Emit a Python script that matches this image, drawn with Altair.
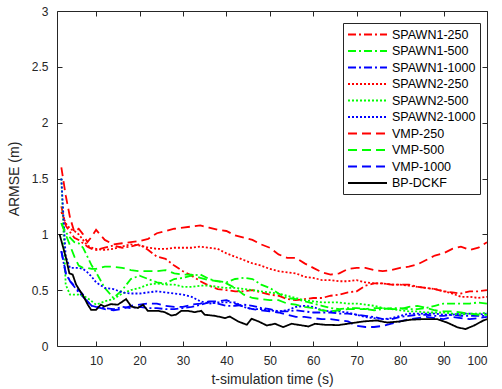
import altair as alt
import pandas as pd

SERIES = ["SPAWN1-250", "SPAWN1-500", "SPAWN1-1000",
          "SPAWN2-250", "SPAWN2-500", "SPAWN2-1000",
          "VMP-250", "VMP-500", "VMP-1000", "BP-DCKF"]
COLORS = ["#FF0000", "#00FF00", "#0000FF",
          "#FF0000", "#00FF00", "#0000FF",
          "#FF0000", "#00FF00", "#0000FF", "#000000"]
DASHES = [[8, 3, 2, 3], [8, 3, 2, 3], [8, 3, 2, 3],
          [2, 2], [2, 2], [2, 2],
          [9, 5], [9, 5], [9, 5],
          [1, 0]]

T = [2, 3, 4, 5, 6, 7, 8, 9, 10,
     12, 14, 16, 18, 20, 22, 24, 26, 28, 30,
     32, 34, 36, 38, 40, 42, 44, 46, 48, 50,
     52, 54, 56, 58, 60, 62, 64, 66, 68, 70,
     72, 74, 76, 78, 80, 82, 84, 86, 88, 90,
     92, 94, 96, 98, 100]

SPAWN1_250 = [1.25, 1.08, 1.02, 0.97, 0.95, 0.92, 0.89, 0.87, 0.86,
              0.88, 0.90, 0.88, 0.89, 0.91, 0.86, 0.80, 0.78, 0.72, 0.67,
              0.63, 0.58, 0.54, 0.51, 0.50, 0.49, 0.49, 0.50, 0.48, 0.46,
              0.45, 0.42, 0.41, 0.42, 0.43, 0.43, 0.45, 0.46, 0.48, 0.49,
              0.54, 0.56, 0.56, 0.55, 0.55, 0.55, 0.53, 0.52, 0.51, 0.49,
              0.48, 0.47, 0.49, 0.49, 0.50]
SPAWN1_500 = [1.10, 1.02, 0.97, 0.93, 0.92, 0.88, 0.80, 0.72, 0.66,
              0.52, 0.43, 0.50, 0.60, 0.63, 0.60, 0.57, 0.56, 0.60, 0.61,
              0.63, 0.64, 0.60, 0.58, 0.57, 0.60, 0.61, 0.60, 0.55, 0.52,
              0.47, 0.43, 0.42, 0.40, 0.38, 0.36, 0.34, 0.33, 0.34, 0.34,
              0.33, 0.32, 0.33, 0.34, 0.34, 0.33, 0.33, 0.34, 0.36, 0.38,
              0.38, 0.38, 0.38, 0.39, 0.38]
SPAWN1_1000 = [0.85, 0.65, 0.58, 0.53, 0.48, 0.44, 0.40, 0.36, 0.35,
               0.34, 0.33, 0.35, 0.34, 0.35, 0.34, 0.34, 0.33, 0.33, 0.34,
               0.35, 0.37, 0.39, 0.38, 0.36, 0.36, 0.37, 0.36, 0.34, 0.33,
               0.31, 0.31, 0.32, 0.31, 0.30, 0.30, 0.30, 0.29, 0.29, 0.28,
               0.27, 0.26, 0.24, 0.24, 0.26, 0.27, 0.28, 0.28, 0.27, 0.27,
               0.28, 0.27, 0.27, 0.27, 0.27]
SPAWN2_250 = [1.20, 1.10, 1.05, 1.03, 1.00, 0.95, 0.90, 0.88, 0.87,
              0.86, 0.87, 0.89, 0.91, 0.90, 0.88, 0.87, 0.87, 0.88, 0.88,
              0.88, 0.89, 0.88, 0.87, 0.83, 0.80, 0.77, 0.74, 0.72, 0.69,
              0.67, 0.66, 0.65, 0.62, 0.61, 0.59, 0.59, 0.58, 0.58, 0.59,
              0.57, 0.56, 0.56, 0.55, 0.55, 0.54, 0.53, 0.52, 0.51, 0.49,
              0.47, 0.44, 0.44, 0.43, 0.44]
SPAWN2_500 = [1.50, 0.55, 0.46, 0.46, 0.46, 0.45, 0.43, 0.40, 0.37,
              0.40, 0.42, 0.47, 0.50, 0.52, 0.55, 0.56, 0.55, 0.55, 0.53,
              0.53, 0.54, 0.54, 0.53, 0.52, 0.52, 0.51, 0.50, 0.49, 0.48,
              0.47, 0.45, 0.43, 0.41, 0.40, 0.39, 0.39, 0.39, 0.38, 0.38,
              0.37, 0.36, 0.34, 0.33, 0.32, 0.31, 0.31, 0.30, 0.30, 0.30,
              0.29, 0.28, 0.29, 0.29, 0.30]
SPAWN2_1000 = [1.50, 0.80, 0.70, 0.70, 0.70, 0.69, 0.66, 0.62, 0.57,
               0.52, 0.51, 0.48, 0.47, 0.47, 0.48, 0.49, 0.48, 0.47, 0.46,
               0.44, 0.40, 0.38, 0.39, 0.39, 0.39, 0.35, 0.33, 0.33, 0.32,
               0.31, 0.32, 0.35, 0.36, 0.35, 0.32, 0.31, 0.31, 0.30, 0.28,
               0.26, 0.25, 0.24, 0.25, 0.27, 0.29, 0.29, 0.29, 0.29, 0.28,
               0.28, 0.29, 0.29, 0.28, 0.29]
VMP_250 = [1.60, 1.35, 1.15, 1.02, 1.05, 1.00, 0.93, 0.98, 1.04,
           0.95, 0.91, 0.92, 0.93, 0.94, 0.96, 1.01, 1.03, 1.05, 1.06,
           1.07, 1.08, 1.06, 1.04, 1.03, 0.99, 0.97, 0.95, 0.91, 0.88,
           0.82, 0.79, 0.79, 0.74, 0.70, 0.66, 0.64, 0.65, 0.69, 0.70,
           0.70, 0.68, 0.67, 0.68, 0.70, 0.71, 0.73, 0.77, 0.81, 0.83,
           0.87, 0.89, 0.86, 0.88, 0.93]
VMP_500 = [1.10, 1.00, 0.90, 0.80, 0.72, 0.70, 0.70, 0.69, 0.69,
           0.71, 0.71, 0.70, 0.68, 0.67, 0.67, 0.67, 0.68, 0.65, 0.64,
           0.64, 0.61, 0.59, 0.58, 0.56, 0.52, 0.46, 0.43, 0.42, 0.41,
           0.41, 0.38, 0.37, 0.35, 0.34, 0.32, 0.31, 0.32, 0.33, 0.33,
           0.33, 0.34, 0.34, 0.33, 0.33, 0.35, 0.36, 0.34, 0.32, 0.31,
           0.31, 0.30, 0.29, 0.28, 0.28]
VMP_1000 = [0.85, 0.66, 0.58, 0.54, 0.50, 0.46, 0.40, 0.36, 0.35,
            0.33, 0.32, 0.33, 0.36, 0.37, 0.38, 0.38, 0.36, 0.35, 0.35,
            0.37, 0.38, 0.40, 0.40, 0.41, 0.38, 0.35, 0.33, 0.32, 0.31,
            0.30, 0.28, 0.26, 0.26, 0.25, 0.24, 0.24, 0.23, 0.22, 0.18,
            0.17, 0.17, 0.18, 0.20, 0.22, 0.24, 0.25, 0.26, 0.25, 0.24,
            0.26, 0.25, 0.24, 0.25, 0.26]

T_BP = [1.6, 3.1, 3.85, 4.6, 5.4, 6.2, 6.9, 8.1, 8.85, 10, 11.1, 11.9, 13.4,
        15, 16.9, 18.1, 19.6, 20.8, 21.9, 24.2, 25.8, 27.3, 28.4, 29.6, 31.1,
        32.7, 34.2, 35, 37.4, 39.7, 40.8, 42.7, 44.7, 45.8, 47.4, 49.3, 51.2,
        53.1, 55, 57, 58.9, 60.4, 62.7, 65.8, 68.9, 71.6, 74.6, 77, 80, 82.3,
        85.4, 88.5, 90.8, 93.1, 95, 96.9, 99.2, 100]
BP_DCKF = [1.0, 0.785, 0.65, 0.64, 0.55, 0.50, 0.458, 0.37, 0.324, 0.324,
           0.37, 0.354, 0.375, 0.37, 0.42, 0.354, 0.34, 0.37, 0.315, 0.315,
           0.303, 0.273, 0.28, 0.315, 0.315, 0.303, 0.315, 0.28, 0.27, 0.25,
           0.264, 0.22, 0.19, 0.244, 0.22, 0.184, 0.199, 0.169, 0.199, 0.187,
           0.175, 0.199, 0.19, 0.187, 0.205, 0.22, 0.229, 0.21, 0.22, 0.235,
           0.241, 0.241, 0.21, 0.169, 0.151, 0.181, 0.229, 0.24]

X_TICKS = [10, 20, 30, 40, 50, 60, 70, 80, 90, 100]
Y_TICKS = [0, 0.5, 1, 1.5, 2, 2.5, 3]

VALUES = [SPAWN1_250, SPAWN1_500, SPAWN1_1000, SPAWN2_250, SPAWN2_500,
          SPAWN2_1000, VMP_250, VMP_500, VMP_1000]

rows = []
for name, vals in zip(SERIES[:9], VALUES):
    for t, v in zip(T, vals):
        rows.append({"t": t, "v": v, "s": name})
for t, v in zip(T_BP, BP_DCKF):
    rows.append({"t": t, "v": v, "s": "BP-DCKF"})
df = pd.DataFrame(rows)

FONT = "Liberation Sans"
AX = "#262626"

xscale = alt.Scale(domain=[1, 100], nice=False, zero=False)
yscale = alt.Scale(domain=[0, 3], nice=False)

LEG = dict(title=None, orient="none", legendX=286, legendY=12)

lines = alt.Chart(df).mark_line(strokeWidth=1.8, clip=True).encode(
    x=alt.X("t:Q", scale=xscale,
            axis=alt.Axis(orient="bottom", values=X_TICKS, title="t-simulation time (s)",
                          offset=-5, domain=False, tickSize=5, tickColor=AX,
                          labelPadding=9, labelFontSize=12, titleFontSize=14,
                          titlePadding=6)),
    y=alt.Y("v:Q", scale=yscale,
            axis=alt.Axis(orient="left", values=Y_TICKS, format="~g", title="ARMSE (m)",
                          offset=-5, domain=False, tickSize=5, tickColor=AX,
                          labelPadding=9, labelFontSize=12, titleFontSize=14,
                          titlePadding=10)),
    color=alt.Color("s:N", scale=alt.Scale(domain=SERIES, range=COLORS),
                    legend=alt.Legend(**LEG)),
    strokeDash=alt.StrokeDash("s:N", scale=alt.Scale(domain=SERIES, range=DASHES),
                              legend=alt.Legend(**LEG)),
    detail="s:N",
)

frame = alt.Chart(df).mark_point(opacity=0).encode(
    x=alt.X("t:Q", scale=xscale,
            axis=alt.Axis(orient="top", values=X_TICKS, title=None, labels=False,
                          offset=-5, domain=False, tickSize=5, tickColor=AX)),
    y=alt.Y("v:Q", scale=yscale,
            axis=alt.Axis(orient="right", values=Y_TICKS, title=None, labels=False,
                          offset=-5, domain=False, tickSize=5, tickColor=AX)),
)

chart = alt.layer(lines, frame).resolve_axis(x="independent", y="independent").properties(
    width=430, height=335,
    autosize=alt.AutoSizeParams(type="none"),
    padding={"left": 57, "top": 11, "right": 15, "bottom": 43},
).configure_view(
    stroke=AX, strokeWidth=1
).configure_axis(
    labelFont=FONT, titleFont=FONT, labelColor=AX, titleColor=AX,
    titleFontWeight="normal", grid=False, ticks=True
).configure_legend(
    labelFont=FONT, labelFontSize=12.5, labelColor="#000000",
    symbolType="M-1,0H5", symbolSize=169, symbolStrokeWidth=1.8,
    strokeColor="#262626", fillColor="#FFFFFF", padding=4,
    rowPadding=2.5, labelOffset=30, cornerRadius=0
)

chart.save("out.html", embed_options={"renderer": "svg", "actions": False})
